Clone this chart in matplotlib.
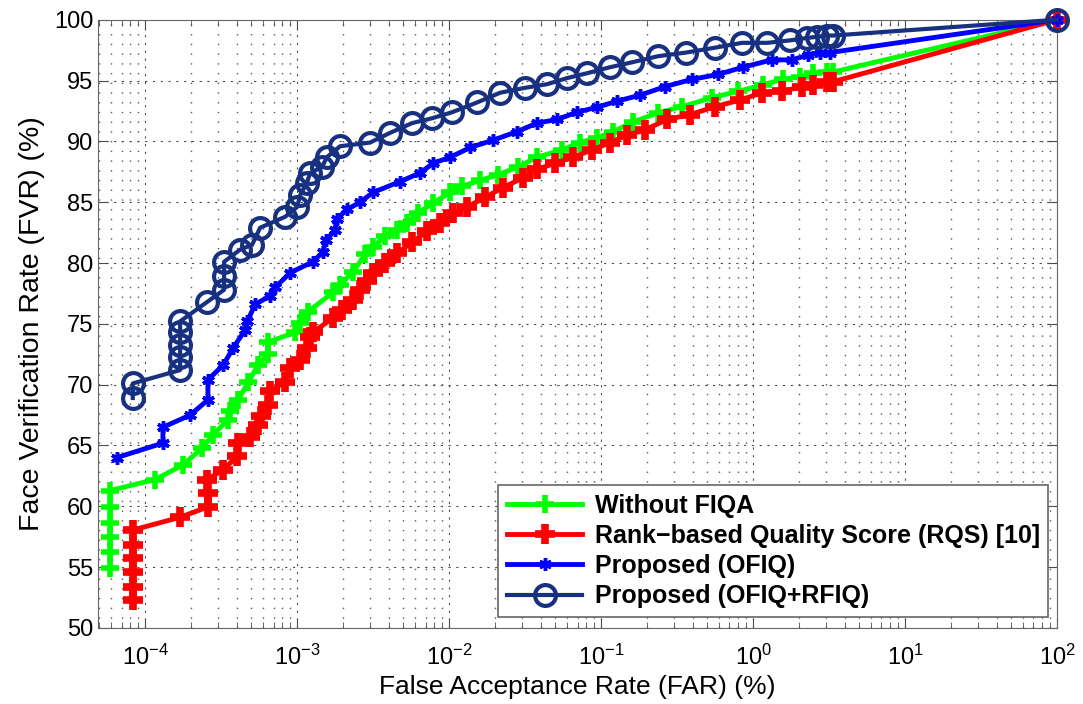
import matplotlib
matplotlib.use("Agg")
import matplotlib.pyplot as plt
from matplotlib.ticker import LogLocator, MultipleLocator, NullFormatter, FixedLocator

plt.rcParams['font.family'] = ['Liberation Sans', 'DejaVu Sans']
plt.rcParams['mathtext.fontset'] = 'custom'
plt.rcParams['mathtext.rm'] = 'Liberation Sans'
plt.rcParams['mathtext.it'] = 'Liberation Sans:italic'
plt.rcParams['mathtext.bf'] = 'Liberation Sans:bold'

# ===== 데이터 (FAR %, FVR %) =====
# Without FIQA
far_plain = [5.9e-5, 5.9e-5, 5.9e-5, 5.9e-5, 5.9e-5, 5.9e-5, 1.16e-4, 1.78e-4, 2.37e-4, 2.8e-4,
             3.51e-4, 3.6e-4, 4.09e-4, 4.77e-4, 5.54e-4, 6.45e-4, 6.45e-4, 9.7e-4, 1.05e-3, 1.18e-3,
             1.73e-3, 1.92e-3, 2.34e-3, 2.8e-3, 3.16e-3, 3.79e-3, 4.55e-3, 5.3e-3, 6.25e-3, 7.85e-3,
             1.02e-2, 1.22e-2, 1.6e-2, 2.1e-2, 2.84e-2, 3.79e-2, 5.53e-2, 7.28e-2, 9.4e-2, 0.12,
             0.163, 0.237, 0.341, 0.537, 0.796, 1.16, 1.57, 2.04, 2.48, 3.07, 3.36, 100]
fvr_plain = [54.9, 56.25, 57.5, 58.6, 59.95, 61.3, 62.2, 63.4, 64.8, 65.9,
             67.1, 67.8, 68.75, 70.2, 71.6, 72.5, 73.5, 74.3, 75.1, 76.0,
             77.6, 78.2, 79.3, 80.7, 81.3, 82.2, 82.7, 83.3, 84.1, 84.95,
             85.8, 86.3, 86.8, 87.25, 87.9, 88.7, 89.3, 89.9, 90.3, 90.8,
             91.6, 92.35, 92.85, 93.6, 94.1, 94.65, 95.1, 95.3, 95.6, 95.7, 95.7, 100]

# Rank-based Quality Score (RQS) [10]
far_rqs = [8.3e-5, 8.3e-5, 8.3e-5, 8.3e-5, 8.3e-5, 8.3e-5, 1.7e-4, 2.59e-4, 2.59e-4, 2.56e-4,
           3.26e-4, 4.03e-4, 4.1e-4, 4.91e-4, 5.54e-4, 5.8e-4, 6.45e-4, 6.64e-4, 8.34e-4, 9.0e-4,
           1.05e-3, 1.16e-3, 1.22e-3, 1.27e-3, 1.73e-3, 1.98e-3, 2.34e-3, 2.6e-3, 2.89e-3, 3.16e-3,
           3.79e-3, 4.55e-3, 5.71e-3, 7.16e-3, 8.73e-3, 1.06e-2, 1.31e-2, 1.73e-2, 2.26e-2, 3.07e-2,
           3.79e-2, 4.98e-2, 6.55e-2, 8.73e-2, 0.115, 0.148, 0.195, 0.272, 0.385, 0.562,
           0.821, 1.15, 1.55, 2.1, 2.48, 3.07, 3.36, 100]
fvr_rqs = [52.3, 53.4, 54.6, 55.75, 56.8, 58.05, 59.1, 59.95, 61.1, 62.2,
           63.0, 64.1, 65.2, 65.7, 66.7, 67.4, 68.3, 69.5, 70.2, 71.4,
           72.0, 73.0, 73.9, 74.3, 75.5, 76.15, 77.0, 77.8, 78.5, 79.2,
           80.0, 80.8, 81.7, 82.6, 83.3, 84.1, 84.6, 85.4, 86.2, 87.0,
           87.7, 88.2, 88.7, 89.3, 89.9, 90.5, 90.95, 91.8, 92.2, 92.85,
           93.4, 94.0, 94.1, 94.5, 94.65, 94.9, 94.9, 100]

# Proposed (OFIQ)
far_ofiq = [6.5e-5, 1.31e-4, 1.31e-4, 1.98e-4, 2.59e-4, 2.59e-4, 3.26e-4, 3.79e-4, 4.55e-4, 4.7e-4,
            5.3e-4, 6.64e-4, 7.2e-4, 9.0e-4, 1.27e-3, 1.48e-3, 1.55e-3, 1.78e-3, 1.82e-3, 2.13e-3,
            2.6e-3, 3.16e-3, 4.77e-3, 6.45e-3, 7.85e-3, 1.02e-2, 1.38e-2, 1.95e-2, 2.8e-2, 3.79e-2,
            5.14e-2, 6.95e-2, 9.4e-2, 0.127, 0.181, 0.264, 0.397, 0.589, 0.86, 1.33,
            1.81, 2.3, 2.76, 3.21, 100]
fvr_ofiq = [64.0, 65.2, 66.5, 67.5, 68.75, 70.4, 71.6, 73.0, 74.5, 75.2,
            76.6, 77.3, 78.0, 79.2, 80.1, 80.9, 81.9, 82.7, 83.6, 84.4,
            85.0, 85.8, 86.7, 87.4, 88.2, 88.7, 89.5, 90.1, 90.8, 91.5,
            91.8, 92.4, 92.8, 93.3, 93.8, 94.5, 95.1, 95.5, 96.1, 96.7,
            96.7, 97.1, 97.3, 97.3, 100]

# Proposed (OFIQ+RFIQ)
far_both = [8.3e-5, 8.3e-5, 1.7e-4, 1.7e-4, 1.7e-4, 1.7e-4, 1.7e-4, 2.56e-4, 3.31e-4, 3.31e-4,
            3.31e-4, 4.22e-4, 5.06e-4, 5.71e-4, 8.34e-4, 1.0e-3, 1.05e-3, 1.16e-3, 1.22e-3, 1.46e-3,
            1.57e-3, 1.92e-3, 3.02e-3, 4.09e-3, 5.71e-3, 7.73e-3, 1.05e-2, 1.53e-2, 2.17e-2, 3.16e-2,
            4.42e-2, 5.97e-2, 8.09e-2, 0.115, 0.160, 0.237, 0.362, 0.562, 0.847, 1.24,
            1.75, 2.26, 2.64, 3.07, 3.36, 100]
fvr_both = [68.9, 70.1, 71.2, 72.3, 73.3, 74.3, 75.2, 76.8, 77.8, 78.9,
            80.1, 81.1, 81.5, 82.9, 83.8, 84.6, 85.6, 86.6, 87.4, 87.9,
            88.7, 89.6, 89.9, 90.7, 91.5, 91.9, 92.4, 93.2, 94.0, 94.4,
            94.7, 95.2, 95.6, 96.1, 96.5, 97.0, 97.3, 97.7, 98.1, 98.1,
            98.3, 98.5, 98.6, 98.7, 98.7, 100]

labels = ["Without FIQA", "Rank\u2212based Quality Score (RQS) [10]",
          "Proposed (OFIQ)", "Proposed (OFIQ+RFIQ)"]
major_x = [1e-4, 1e-3, 1e-2, 1e-1, 1e0, 1e1, 1e2]

NAVY = "#17307f"

fig = plt.figure(figsize=(10.83, 7.04), dpi=100)
ax = fig.add_axes([0.0905, 0.108, 0.8855, 0.864])

ax.plot(far_plain, fvr_plain, color="#00ff00", lw=3.5, marker="+", ms=13, mew=4,
        label=labels[0], clip_on=False, zorder=3)
ax.plot(far_rqs, fvr_rqs, color="#ff0000", lw=3.5, marker="+", ms=14, mew=5.5,
        label=labels[1], clip_on=False, zorder=3)
ax.plot(far_ofiq, fvr_ofiq, color="#0000ff", lw=3.5, marker=(6, 2, 0), ms=9, mew=2.5,
        label=labels[2], clip_on=False, zorder=3)
ax.plot(far_both, fvr_both, color=NAVY, lw=3, marker="o", ms=15, mew=3, mfc="none",
        label=labels[3], clip_on=False, zorder=4)

ax.set_xscale("log")
ax.set_xlim(4.9e-5, 100)
ax.set_ylim(50, 100)
ax.xaxis.set_major_locator(FixedLocator(major_x))
ax.xaxis.set_minor_locator(LogLocator(base=10, subs=range(2, 10), numticks=20))
ax.xaxis.set_minor_formatter(NullFormatter())
ax.yaxis.set_major_locator(MultipleLocator(5))

# MATLAB 스타일 점선 격자 (y는 major만)
ax.grid(True, which="major", linestyle=(0, (2, 5)), color="0.3", lw=0.8)
ax.grid(True, which="minor", axis="x", linestyle=(0, (1, 6)), color="0.35", lw=1.0)
ax.tick_params(which="both", direction="in", top=True, right=True, colors="0.3",
               labelcolor="black", labelsize=17)
ax.tick_params(which="major", length=7)
ax.tick_params(which="minor", length=4)
ax.tick_params(axis="x", which="major", pad=12)
for s in ax.spines.values():
    s.set_color("0.4")

ax.set_xlabel("False Acceptance Rate (FAR) (%)", fontsize=19, labelpad=4)
ax.set_ylabel("Face Verification Rate (FVR) (%)", fontsize=20.5, labelpad=6)

leg = ax.legend(loc="lower right", bbox_to_anchor=(0.991, 0.018), borderaxespad=0,
                numpoints=1, handlelength=3.0, fancybox=False, framealpha=1,
                edgecolor="0.4", prop={"weight": "bold", "size": 18}, labelspacing=0.25,
                borderpad=0.35, handletextpad=0.5)
leg.get_frame().set_linewidth(1.2)
leg.set_zorder(5)

fig.savefig("out.png", dpi=100)
